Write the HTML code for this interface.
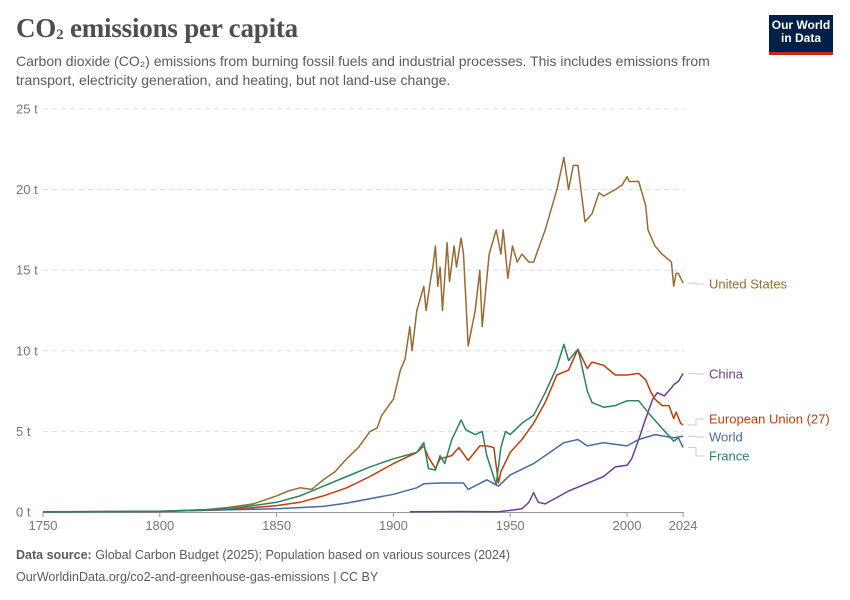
<!DOCTYPE html>
<html><head><meta charset="utf-8">
<style>
body{margin:0;background:#fff;width:850px;height:600px;overflow:hidden;font-family:"Liberation Sans",sans-serif;}
.t{position:absolute;}
</style></head>
<body>
<div class="t" style="left:16px;top:13px;font-family:'Liberation Serif',serif;font-size:27px;color:#4e4e4e;font-weight:bold;letter-spacing:-0.2px;">CO<sub style="font-size:15px;vertical-align:-2px">2</sub> emissions per capita</div>
<div class="t" style="left:16px;top:52px;width:700px;font-size:14px;line-height:19px;color:#5b5b5b;">Carbon dioxide (CO₂) emissions from burning fossil fuels and industrial processes. This includes emissions from transport, electricity generation, and heating, but not land-use change.</div>
<div class="t" style="left:769px;top:15px;width:64px;background:#002147;border-bottom:3px solid #ce261e;color:#fff;font-size:12px;font-weight:bold;line-height:13px;text-align:center;padding-top:4px;height:33px;">Our World<br>in Data</div>
<svg id="chart" class="t" style="left:0;top:0" width="850" height="600"></svg>
<div class="t" style="left:16px;top:548px;font-size:12.5px;color:#5b5b5b;"><b>Data source:</b> Global Carbon Budget (2025); Population based on various sources (2024)</div>
<div class="t" style="left:16px;top:570px;font-size:12.5px;color:#5b5b5b;">OurWorldinData.org/co2-and-greenhouse-gas-emissions | CC BY</div>
<script>
const yTicks=[0,5,10,15,20,25];
const xTicks=[1750,1800,1850,1900,1950,2000,2024];
const usYears=[1750,1800,1820,1830,1840,1850,1855,1860,1865,1870,1875,1880,1885,1890,1893,1895,1900,1903,1905,1907,1908,1910,1913,1914,1916,1917,1918,1919,1920,1921,1923,1924,1926,1927,1929,1930,1932,1935,1937,1938,1941,1944,1946,1947,1949,1950,1951,1953,1955,1958,1960,1965,1970,1973,1975,1977,1979,1982,1985,1988,1990,1995,1998,2000,2001,2005,2008,2009,2012,2015,2019,2020,2021,2022,2024];
const usVals=[0,0.05,0.15,0.3,0.5,1.0,1.3,1.5,1.4,2.0,2.5,3.3,4.0,5.0,5.2,6.0,7.0,8.8,9.5,11.5,10.0,12.5,14.0,12.5,14.5,15.3,16.5,14.0,15.2,12.5,16.7,14.3,16.5,15.2,17.0,16.0,10.3,12.5,15.0,11.5,16.0,17.5,16.0,17.5,14.5,15.5,16.5,15.5,16.0,15.5,15.5,17.5,20.0,22.0,20.0,21.5,21.5,18.0,18.5,19.8,19.6,20.0,20.3,20.8,20.5,20.5,19.0,17.5,16.5,16.0,15.5,14.0,14.8,14.8,14.2];
const euYears=[1750,1800,1830,1850,1860,1870,1880,1890,1900,1910,1913,1915,1918,1920,1925,1928,1932,1937,1940,1943,1945,1946,1950,1955,1960,1965,1970,1975,1979,1983,1985,1990,1995,2000,2005,2008,2010,2012,2015,2018,2020,2021,2023,2024];
const euVals=[0,0.03,0.15,0.4,0.6,1.0,1.5,2.2,3.0,3.7,4.1,3.4,2.7,3.3,3.5,4.0,3.2,4.1,4.1,4.0,1.8,2.5,3.7,4.5,5.5,6.8,8.5,8.8,10.1,8.9,9.3,9.1,8.5,8.5,8.6,8.2,7.5,7.0,6.6,6.6,5.8,6.2,5.5,5.4];
const frYears=[1750,1800,1830,1850,1860,1870,1880,1890,1900,1910,1913,1915,1918,1920,1922,1925,1929,1931,1935,1938,1940,1944,1946,1948,1950,1955,1960,1965,1970,1973,1975,1979,1980,1983,1985,1990,1995,2000,2005,2010,2015,2020,2022,2024];
const frVals=[0,0.03,0.2,0.6,1.0,1.6,2.2,2.8,3.3,3.7,4.3,2.7,2.6,3.5,3.0,4.5,5.7,5.1,4.8,5.0,3.5,1.7,4.0,5.0,4.8,5.5,6.0,7.4,9.0,10.4,9.4,10.1,9.5,7.5,6.8,6.5,6.6,6.9,6.9,6.0,5.2,4.4,4.6,4.0];
const wYears=[1750,1800,1850,1870,1880,1900,1910,1913,1920,1930,1932,1940,1945,1950,1960,1970,1973,1979,1983,1990,2000,2005,2012,2020,2024];
const wVals=[0.01,0.05,0.2,0.35,0.55,1.1,1.5,1.75,1.8,1.8,1.4,2.0,1.6,2.3,3.0,4.0,4.3,4.5,4.1,4.3,4.1,4.5,4.8,4.6,4.7];
const cnYears=[1907,1930,1945,1950,1955,1958,1960,1962,1965,1970,1975,1980,1985,1990,1995,2000,2002,2005,2008,2011,2013,2016,2019,2020,2022,2024];
const cnVals=[0.01,0.03,0.02,0.1,0.2,0.6,1.2,0.6,0.5,0.9,1.3,1.6,1.9,2.2,2.8,2.9,3.3,4.5,5.8,7.0,7.4,7.2,7.7,7.9,8.1,8.6];
const series=[
 {name:'United States',years:usYears,vals:usVals,color:'#9a6a34',ly:284},
 {name:'China',years:cnYears,vals:cnVals,color:'#6d3e91',ly:374},
 {name:'European Union (27)',years:euYears,vals:euVals,color:'#c13d0c',ly:419},
 {name:'World',years:wYears,vals:wVals,color:'#4c6a9c',ly:437},
 {name:'France',years:frYears,vals:frVals,color:'#2a8462',ly:456}
];
const X=y=>43+(y-1750)*(584/250);
const Y=v=>512-v*(403/25);
const svg=document.getElementById('chart');
const NS='http://www.w3.org/2000/svg';
function mk(t,a){const e=document.createElementNS(NS,t);for(const k in a)e.setAttribute(k,a[k]);svg.appendChild(e);return e;}
yTicks.forEach(v=>{
 if(v>0){const g=mk('line',{x1:43,x2:684,y1:Y(v),y2:Y(v),stroke:'#ddd','stroke-dasharray':'5,4'});
 
 }
 const t=mk('text',{x:16,y:Y(v)+4.5,'font-size':'13','fill':'#777','font-family':'Liberation Sans, sans-serif'});
 t.textContent=v+' t';
 
 
});
const ax=mk('line',{x1:43,x2:684,y1:512.5,y2:512.5,stroke:'#999'});


xTicks.forEach(yr=>{
 const tk=mk('line',{x1:X(yr),x2:X(yr),y1:512,y2:517,stroke:'#999'});
 
 
 const t=mk('text',{x:X(yr),y:530,'font-size':'13','fill':'#777','text-anchor':'middle','font-family':'Liberation Sans, sans-serif'});
 t.textContent=yr;
 
 
});
series.forEach(s=>{
 const d=s.years.map((yr,i)=>(i?'L':'M')+X(yr).toFixed(1)+','+Y(s.vals[i]).toFixed(1)).join('');
 const p=mk('path',{d:d,fill:'none',stroke:s.color,'stroke-width':'1.5','stroke-linejoin':'round'});
 
 
 const ey=Y(s.vals[s.vals.length-1]);
 const c=mk('path',{d:`M688,${ey.toFixed(1)}H696V${s.ly}H704`,fill:'none',stroke:'#ccc','stroke-width':'1'});
 
 
 const t=mk('text',{x:709,y:s.ly+4.5,'font-size':'13','fill':s.color,'font-family':'Liberation Sans, sans-serif'});
 t.textContent=s.name;
 
 
});
</script>
</body></html>
